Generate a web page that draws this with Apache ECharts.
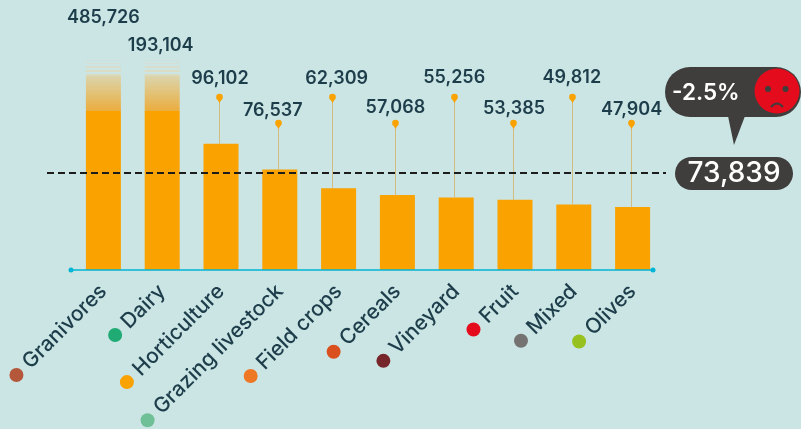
<!DOCTYPE html>
<html>
<head>
<meta charset="utf-8">
<style>html,body{margin:0;padding:0;background:#cbe5e4}#c{width:801px;height:429px}</style>
<script src="https://cdn.jsdelivr.net/npm/echarts@6/dist/echarts.min.js"></script>
</head>
<body>
<div id="c"></div>
<script>
const categories = ['Granivores','Dairy','Horticulture','Grazing livestock','Field crops','Cereals','Vineyard','Fruit','Mixed','Olives'];
const values = [485726,193104,96102,76537,62309,57068,55256,53385,49812,47904];
const dotColors = ['#b5573a','#1fab73','#f9a200','#6fbf97','#ee7725','#d94f1e','#76252a','#e30b1c','#757371','#97c11f'];
const average = 73839;
const changeText = '-2.5%';
const brokenFrom = 121000;   // bars above this are cut and faded
const brokenTo = 160000;

const FONT = 'Inter, "Open Sans", sans-serif';
const INK = '#1d3d4b';
const ORANGE = '#f9a200';
const DARK = '#3f3e3d';
const labelY = [18,46,79,111,79,108,78,109,78,110];
const labelDx = [0,-1.5,-1,-7,-2,-2,-2,-1,-2,-1];
const pinY = [null,null,97,123,97,123,97,123,97,123];
const pinDx = [0,0,-2,-2,-7,-2,-2,-2,-2,-2];
const fmt = v => v.toLocaleString('en-US');

const solid = values.map(v => Math.min(v, brokenFrom));
const fade = values.map(v => v > brokenFrom ? brokenTo - brokenFrom : 0);

// faded cap: smooth gradient, then thin stripes at the top
const BG = 'rgba(203,229,228,0)';
const stops = [
  {offset:0,color:'#cfe0dc'},{offset:.02,color:'#cfe0dc'},{offset:.02,color:BG},{offset:.06,color:BG},
  {offset:.06,color:'#d6dfd5'},{offset:.09,color:'#d6dfd5'},{offset:.09,color:BG},{offset:.13,color:BG},
  {offset:.13,color:'#d8ddcc'},{offset:.16,color:'#d8ddcc'},{offset:.16,color:BG},{offset:.20,color:BG},
  {offset:.20,color:'#dbdcc4'},{offset:.24,color:'#dbdcc4'},{offset:.24,color:BG},{offset:.27,color:BG},
  {offset:.27,color:'#dcdabd'},{offset:.31,color:'#dcdabd'},{offset:.31,color:'#d9d3ae'},{offset:.33,color:'#d9d3ae'},
  {offset:.34,color:'#dcd3a8'},{offset:1,color:'#ebad3e'}
];

const chart = echarts.init(document.getElementById('c'), null, {renderer:'canvas'});
const rich = {name:{fontFamily:FONT,fontSize:21,fontWeight:500,color:INK}};
dotColors.forEach((c,i)=>{ rich['d'+i] = {width:14,height:14,borderRadius:7,backgroundColor:c}; });

chart.setOption({
  backgroundColor:'#cbe5e4',
  animation:false,
  grid:{left:74,top:0,width:588,height:270,containLabel:false,outerBoundsMode:'none'},
  xAxis:{
    type:'category',data:categories,
    axisLine:{show:false},axisTick:{show:false},
    axisLabel:{
      interval:0,rotate:45,margin:18,align:'right',verticalAlign:'middle',
      formatter:(n,i)=>`{d${i}|}  {name|${n}}`,rich
    }
  },
  yAxis:{type:'value',min:0,max:205500,show:false,splitLine:{show:false}},
  series:[
    {type:'bar',name:'solid',stack:'b',data:solid,barWidth:35,itemStyle:{color:ORANGE},z:2,
     markLine:{silent:true,symbol:'none',label:{show:false},animation:false,z:6,
       data:[[
         {x:47,yAxis:average,lineStyle:{color:'#1c1c1c',width:2.2,type:[7,4]}},
         {x:666,yAxis:average}
       ]]}},
    {type:'bar',name:'fade',stack:'b',data:fade,barWidth:35,z:2,
     itemStyle:{color:new echarts.graphic.LinearGradient(0,0,0,1,stops)},
     markLine:{silent:true,symbol:['circle','circle'],symbolSize:5,label:{show:false},z:5,animation:false,
       data:[[
         {x:71,yAxis:0,lineStyle:{color:'#00b5d6',width:1.5,type:'solid'},itemStyle:{color:'#00b5d6'}},
         {x:653,yAxis:0}
       ]]}},
    {type:'custom',name:'labels',z:4,clip:false,
     data:values.map((v,i)=>[i,v]),
     encode:{x:0,y:1},
     renderItem:(params,api)=>{
       const i = api.value(0);
       const v = api.value(1);
       const top = api.coord([i,Math.min(v,brokenTo)]);
       const x = Math.round(top[0]+pinDx[i])+.5;
       const kids = [{
         type:'text',
         style:{x:top[0]+labelDx[i],y:labelY[i],text:fmt(v),fill:INK,
                font:`600 18px ${FONT}`,textAlign:'center',textVerticalAlign:'middle'}
       }];
       if(pinY[i]!==null){
         const py = pinY[i];
         kids.unshift(
           {type:'line',shape:{x1:x,y1:py,x2:x,y2:top[1]},style:{stroke:'#d3bd7e',lineWidth:1}},
           {type:'polygon',shape:{points:[[x-3,py+1],[x+3,py+1],[x,py+6]]},style:{fill:ORANGE}},
           {type:'circle',shape:{cx:x,cy:py,r:3.3},style:{fill:ORANGE}}
         );
       }
       return {type:'group',children:kids};
     }}
  ],
  graphic:[
    {type:'group',silent:true,z:20,children:[
      {type:'rect',shape:{x:665,y:67,width:136,height:50,r:25},style:{fill:DARK}},
      {type:'polygon',shape:{points:[[728,116],[745,116],[734,145]]},style:{fill:DARK}},
      {type:'text',style:{x:672,y:93,text:changeText,fill:'#fff',font:`600 22.5px ${FONT}`,textAlign:'left',textVerticalAlign:'middle'}},
      {type:'circle',shape:{cx:777,cy:91,r:22.5},style:{fill:'#e30b1c'}},
      {type:'circle',shape:{cx:768,cy:89,r:3},style:{fill:DARK}},
      {type:'circle',shape:{cx:785.5,cy:89,r:3},style:{fill:DARK}},
      {type:'bezierCurve',shape:{x1:771,y1:107,x2:783,y2:107,cpx1:777,cpy1:100},style:{stroke:DARK,lineWidth:2,fill:null}},
      {type:'rect',shape:{x:675,y:157,width:118,height:33,r:16.5},style:{fill:DARK}},
      {type:'text',style:{x:734,y:174,text:fmt(average),fill:'#fff',font:`500 28px ${FONT}`,textAlign:'center',textVerticalAlign:'middle'}}
    ]}
  ]
});
</script>
</body>
</html>
